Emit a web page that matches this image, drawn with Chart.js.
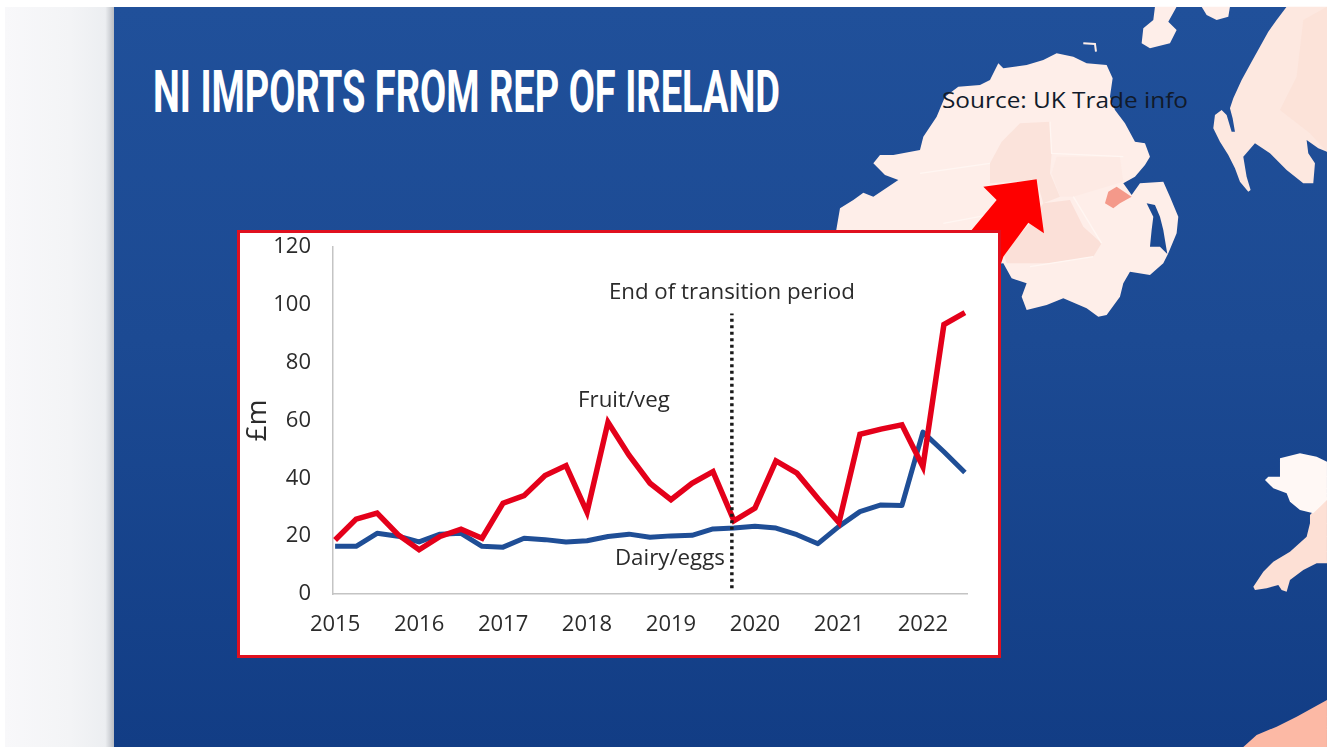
<!DOCTYPE html>
<html>
<head>
<meta charset="utf-8">
<title>NI imports from Rep of Ireland</title>
<script src="https://cdn.jsdelivr.net/npm/chart.js@4"></script>
<style>
  html, body { margin: 0; padding: 0; background: #fff; overflow: hidden; }
  #slide { position: relative; width: 1330px; height: 747px; overflow: hidden; background: #fff; }
  #side {
    position: absolute; left: 5px; top: 7px; width: 109px; height: 740px;
    background: linear-gradient(90deg, #f8f8fa 0%, #f3f4f6 60%, #eceef1 92%, #b9bcc2 100%);
  }
  #sea {
    position: absolute; left: 114px; top: 7px; width: 1213px; height: 740px;
    background: linear-gradient(180deg, #20509a 0%, #1c4a93 45%, #123d85 100%);
  }
  #map { position: absolute; left: 0; top: 0; }
  #box {
    position: absolute; left: 237px; top: 230px; width: 758px; height: 422px;
    background: #fff; border: 3px solid #e0101f;
  }
  #box canvas { display: block; }
</style>
</head>
<body>
<div id="slide">
  <div id="side"></div>
  <div id="sea"></div>

  <svg id="map" width="1330" height="747" xmlns="http://www.w3.org/2000/svg">
    <!-- Northern Ireland and the coast around it -->
    <g transform="translate(830,0) scale(0.3333)">
      <path fill="#feeee9" d="M30,625 L70,600 100,578 130,590 205,540 165,525 130,490 150,465 190,465 270,450 280,410 320,350 345,290 385,260 450,255 480,240 505,190 520,205 590,195 640,180 680,160 730,170 770,190 830,195 848,235 840,290 855,330 885,370 915,425 945,430 960,470 945,495 915,530 880,550 905,585 930,550 1000,545 1020,590 1045,650 1040,700 1015,760 1000,790 960,825 900,815 880,850 870,890 830,945 805,950 770,925 700,895 650,915 590,930 575,890 590,850 545,835 520,790 400,800 0,800 Z"/>
      <path fill="#fbe3db" d="M480,490 515,425 570,370 660,365 665,460 660,520 690,590 640,610 620,540 480,550 Z"/>
      <path fill="#fbe0d8" d="M640,610 720,600 760,680 815,730 790,770 660,790 530,790 520,760 600,670 Z"/>
      <path fill="#fdeae4" d="M680,470 870,470 880,545 830,560 730,590 690,590 665,520 Z"/>
      <path fill="none" stroke="#fff6f2" stroke-width="4" d="M270,520 480,490 M660,365 665,460 880,470 M730,590 815,730 M600,800 790,770 M340,670 500,640"/>
      <path fill="#f4998a" d="M860,560 905,590 870,610 850,625 825,610 835,575 Z"/>
      <path fill="#1c4a93" d="M950,610 975,615 990,650 1000,690 1012,762 990,740 960,740 965,690 970,650 Z"/>
      <path fill="#fe0000" d="M460,560 620,538 642,700 595,668 520,770 510,800 400,720 500,600 Z"/>
      <path fill="none" stroke="#feeee9" stroke-width="6" d="M760,130 795,132 798,155"/>
      <path fill="#feeee9" d="M975,20 1040,20 1015,65 1040,90 1020,130 960,145 935,130 940,85 970,60 Z"/>
      <path fill="#feeee9" d="M1115,20 1200,20 1195,50 1160,60 1130,45 Z"/>
      <path fill="#fde8e0" d="M1370,20 1340,60 1315,95 1290,140 1265,185 1235,240 1210,295 1200,325 1208,355 1215,395 1205,395 1190,345 1175,330 1155,345 1150,385 1170,425 1195,465 1215,505 1230,545 1255,575 1262,570 1250,530 1240,470 1275,430 1320,460 1370,510 1420,550 1450,550 1455,490 1435,460 1430,420 1465,445 1491,455 1491,20 Z"/>
      <path fill="#fce3d9" d="M1420,60 1491,20 1491,455 1440,400 1350,330 1400,230 Z"/>
    </g>
    <!-- Wales and the south-west -->
    <g transform="translate(1130,430) scale(0.3333)">
      <path fill="#fde0d5" d="M540,255 591,200 591,400 560,400 520,420 480,450 470,485 455,480 445,465 410,475 375,480 370,470 400,425 430,395 480,365 530,320 540,280 Z"/>
      <path fill="#fff8f5" d="M450,85 510,70 560,80 591,95 591,210 550,250 510,240 480,215 470,190 430,175 405,150 415,140 450,140 Z"/>
      <path fill="#fcb9a5" d="M591,810 500,860 440,890 380,915 340,951 591,951 Z"/>
    </g>
    <text x="153" y="112" font-family="Roboto" font-weight="700" font-size="60" fill="#fff" textLength="627" lengthAdjust="spacingAndGlyphs">NI IMPORTS FROM REP OF IRELAND</text>
    <text x="942" y="108" font-family="Open Sans" font-size="21.5" fill="#111a2a" textLength="246" lengthAdjust="spacingAndGlyphs">Source: UK Trade info</text>
  </svg>

  <div id="box"><canvas id="imports" width="758" height="422"></canvas></div>
</div>

<script>
/* =================================================
  Data
==================================================== */

// quarterly values, first quarter of 2015 to third quarter of 2022
const years = ["2015", "2016", "2017", "2018", "2019", "2020", "2021", "2022"];
const fruitVeg = [18.7, 25.9, 28, 20.5, 15.3, 19.9, 22.4, 19.3, 31.4, 34, 41, 44.4, 28.3, 59.4, 48, 38.3, 32.6, 38.3, 42.3, 25.3, 29.7, 46, 41.8, 33, 24.7, 55.2, 57, 58.5, 44, 93.2, 97.3];
const dairyEggs = [16.5, 16.5, 21, 20, 18, 20.7, 21, 16.5, 16.2, 19.3, 18.8, 18, 18.4, 19.9, 20.7, 19.6, 20.1, 20.3, 22.5, 22.8, 23.4, 22.8, 20.5, 17.4, 23.4, 28.5, 30.8, 30.6, 56, 49.2, 42];
const transitionQuarter = 18.9;
const transitionRange = [2, 97];

const annotationTexts = ["End of transition period", "Fruit/veg", "Dairy/eggs"];
const annotationQuarters = [18.9, 13.76, 15.95];
const annotationValues = [104.2, 66.8, 12.2];

/* =================================================
  Text drawn on the plot
==================================================== */

const annotationPlugin = {
  id: 'annotationLabels',
  afterDatasetsDraw(chart) {
    const { ctx, scales } = chart;
    ctx.save();
    ctx.font = '22.3px "Open Sans"';
    ctx.fillStyle = '#2b2b2b';
    ctx.textAlign = 'center';
    ctx.textBaseline = 'middle';
    annotationTexts.forEach((text, i) => {
      ctx.fillText(text, scales.x.getPixelForValue(annotationQuarters[i]), scales.y.getPixelForValue(annotationValues[i]));
    });
    ctx.restore();
  }
};

/* =================================================
  Imports line chart
==================================================== */

const imports = document.getElementById('imports');

const toPoints = values => values.map((y, x) => ({ x, y }));

const importsData = {
  datasets: [{
    label: 'End of transition period',
    data: transitionRange.map(y => ({ x: transitionQuarter, y })),
    borderColor: '#1a1a1a',
    borderWidth: 3.5,
    borderDash: [3, 3.5],
    pointRadius: 0
  }, {
    label: 'Fruit/veg',
    data: toPoints(fruitVeg),
    borderColor: '#e4001a',
    borderWidth: 5.5,
    borderJoinStyle: 'miter',
    pointRadius: 0,
    tension: 0
  }, {
    label: 'Dairy/eggs',
    data: toPoints(dairyEggs),
    borderColor: '#1f4e96',
    borderWidth: 5,
    borderJoinStyle: 'round',
    pointRadius: 0,
    tension: 0
  }]
};

const tickFont = { family: 'Open Sans', size: 22 };

const importsOptions = {
  responsive: false,
  animation: {
    duration: 0
  },
  layout: {
    padding: { top: 14, right: 31, bottom: 0, left: 0 }
  },
  scales: {
    x: {
      type: 'linear',
      min: -0.1,
      max: 30.1,
      afterBuildTicks: scale => {
        scale.ticks = years.map((year, i) => ({ value: i * 4 }));
      },
      afterFit: scale => {
        scale.height = 61;
      },
      grid: { display: false, drawTicks: false },
      border: { color: '#c4c4c4', width: 1.5 },
      ticks: {
        autoSkip: false,
        maxRotation: 0,
        padding: 18,
        color: '#2b2b2b',
        font: tickFont,
        callback: value => years[value / 4]
      }
    },
    y: {
      min: 0,
      max: 120,
      afterFit: scale => {
        scale.width = 93;
      },
      // the gap between labels and axis comes from hidden tick marks,
      // ticks.padding would push the top of the plot down
      grid: { color: 'transparent', drawOnChartArea: false, tickLength: 22 },
      border: { color: '#c4c4c4', width: 1.5 },
      ticks: {
        stepSize: 20,
        padding: 0,
        color: '#2b2b2b',
        font: tickFont
      },
      title: {
        display: true,
        text: '£m',
        color: '#2b2b2b',
        padding: 1,
        font: { family: 'Open Sans', size: 28 }
      }
    }
  },
  plugins: {
    legend: {
      display: false
    },
    tooltip: {
      enabled: false
    }
  }
};

const importsChart = new Chart(imports, {
  type: 'line',
  data: importsData,
  options: importsOptions,
  plugins: [annotationPlugin]
});
</script>
</body>
</html>
